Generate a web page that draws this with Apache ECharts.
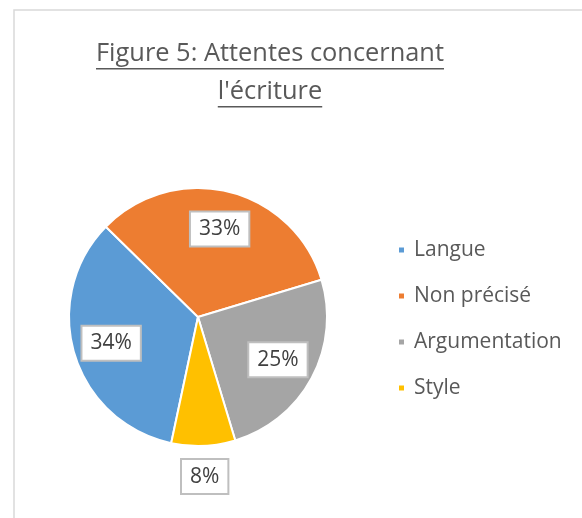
<!DOCTYPE html>
<html>
<head>
<meta charset="utf-8">
<script src="https://cdn.jsdelivr.net/npm/echarts@6/dist/echarts.min.js"></script>
<style>html,body{margin:0;padding:0;background:#fff;}#c{width:582px;height:518px;}</style>
</head>
<body>
<div id="c"></div>
<script>
const titleLines = ["Figure 5: Attentes concernant", "l'écriture"];
const categories = ["Langue", "Non précisé", "Argumentation", "Style"];
const values = [34, 33, 25, 8];
const colors = ["#5B9BD5", "#ED7D31", "#A5A5A5", "#FFC000"];

const FONT = "Open Sans";
const titleSize = 25.4;
const titleLH = 38;
const titleX = 270;
const titleTop = 35;

const chart = echarts.init(document.getElementById('c'), null, {renderer: 'canvas'});

const ctx = document.createElement('canvas').getContext('2d');
ctx.font = titleSize + 'px "' + FONT + '"';
const underlines = titleLines.map((t, i) => {
  const w = ctx.measureText(t).width;
  const y = titleTop + titleLH * i + titleLH / 2 + titleSize * 0.58;
  return {type: 'line', silent: true, shape: {x1: titleX - w / 2, y1: y, x2: titleX + w / 2, y2: y}, style: {stroke: '#595959', lineWidth: 1.5}};
});

const data = categories.map((c, i) => ({name: c, value: values[i], itemStyle: {color: colors[i]}}));
const center = [198, 317];
const R = 129;
const startAngle = 258;

const labelBox = {
  show: true,
  position: 'inside',
  formatter: p => p.value + '%',
  color: '#404040',
  fontFamily: FONT,
  fontSize: 21,
  backgroundColor: '#ffffff',
  borderColor: '#BFBFBF',
  borderWidth: 2,
  padding: [7, 8, 5, 8]
};

const option = {
  animation: false,
  title: {
    text: titleLines.join('\n'),
    left: titleX,
    top: titleTop,
    padding: 0,
    textAlign: 'center',
    textStyle: {fontFamily: FONT, fontSize: titleSize, fontWeight: 'normal', color: '#595959', lineHeight: titleLH}
  },
  legend: {
    orient: 'vertical',
    left: 397,
    top: 239,
    padding: 0,
    itemWidth: 7,
    itemHeight: 7,
    itemGap: 24,
    icon: 'rect',
    textStyle: {fontFamily: FONT, fontSize: 21, color: '#595959', lineHeight: 22, padding: [0, 0, 0, 4]},
    data: categories
  },
  graphic: [
    {type: 'rect', silent: true, shape: {x: 14, y: 10, width: 800, height: 800}, style: {fill: 'none', stroke: '#D9D9D9', lineWidth: 1.5}}
  ].concat(underlines),
  series: [
    {
      type: 'pie', center: center, radius: [0, R], startAngle: startAngle, clockwise: true,
      data: data, label: {show: false}, labelLine: {show: false},
      itemStyle: {borderColor: '#ffffff', borderWidth: 2}, silent: true
    },
    {
      type: 'pie', center: center, radius: [0, R * 1.36], startAngle: startAngle, clockwise: true, silent: true,
      data: data.map((d, i) => ({name: d.name, value: d.value, itemStyle: {color: 'rgba(0,0,0,0)'}, label: {show: i < 3}})),
      label: labelBox, labelLine: {show: false}, legendHoverLink: false
    },
    {
      type: 'pie', center: center, radius: [0, R * 2.43], startAngle: startAngle, clockwise: true, silent: true,
      data: data.map((d, i) => ({name: d.name, value: d.value, itemStyle: {color: 'rgba(0,0,0,0)'}, label: {show: i === 3}})),
      label: labelBox, labelLine: {show: false}, legendHoverLink: false
    }
  ]
};
chart.setOption(option);
</script>
</body>
</html>
